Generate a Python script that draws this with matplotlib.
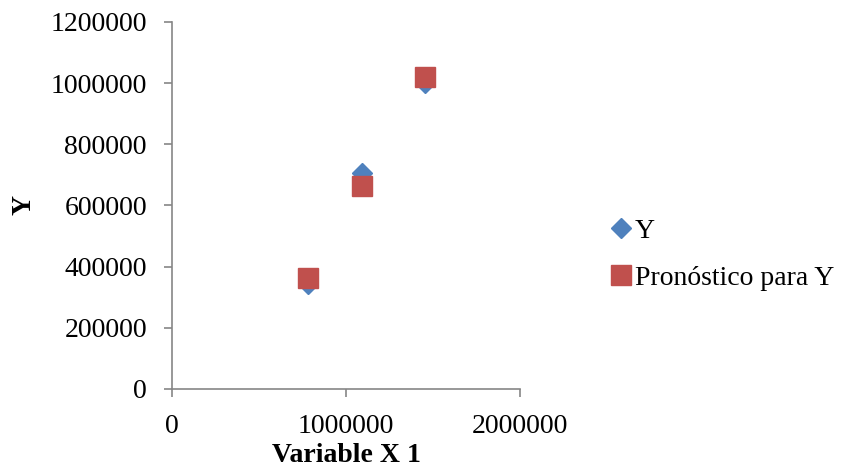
import matplotlib.pyplot as plt

# datos
x_var = [780000, 1090000, 1455000]
y_real = [343000, 705000, 1000000]
y_pron = [362000, 665000, 1020000]
xticks = [0, 1000000, 2000000]
yticks = [0, 200000, 400000, 600000, 800000, 1000000, 1200000]

plt.rcParams['font.family'] = ['Liberation Serif', 'DejaVu Serif']

fig = plt.figure(figsize=(8.41, 4.76), dpi=100)
ax = fig.add_axes([0.2045, 0.1828, 0.4138, 0.771])

ax.plot(x_var, y_real, linestyle='none', marker='D', markersize=10,
        color='#4F81BD', markeredgecolor='#4F81BD', label='Y', zorder=3)
ax.plot(x_var, y_pron, linestyle='none', marker='s', markersize=14,
        color='#C0504D', markeredgecolor='#C0504D', label='Pronóstico para Y', zorder=4)

ax.set_xlim(0, 2000000)
ax.set_ylim(0, 1200000)
ax.set_xticks(xticks)
ax.set_yticks(yticks)
ax.set_xticklabels([str(v) for v in xticks])
ax.set_yticklabels([str(v) for v in yticks])

for s in ['top', 'right']:
    ax.spines[s].set_visible(False)
for s in ['left', 'bottom']:
    ax.spines[s].set_color('#868686')
    ax.spines[s].set_linewidth(1.2)
ax.tick_params(axis='both', direction='out', length=6, width=1.2, color='#868686',
               labelsize=20, pad=12)

ax.set_xlabel('Variable X 1', fontsize=20, fontweight='bold')
ax.xaxis.label.set_va('center')
ax.xaxis.set_label_coords(0.5, -0.18)
ax.set_ylabel('Y', fontsize=20, fontweight='bold')
ax.yaxis.label.set_va('center')
ax.yaxis.set_label_coords(-0.425, 0.5)

fig.legend(loc='center left', bbox_to_anchor=(0.722, 0.465), frameon=False,
           fontsize=20, handletextpad=0.0, labelspacing=0.78, handlelength=1.0,
           borderaxespad=0, borderpad=0)

fig.savefig('out.png', dpi=100)
